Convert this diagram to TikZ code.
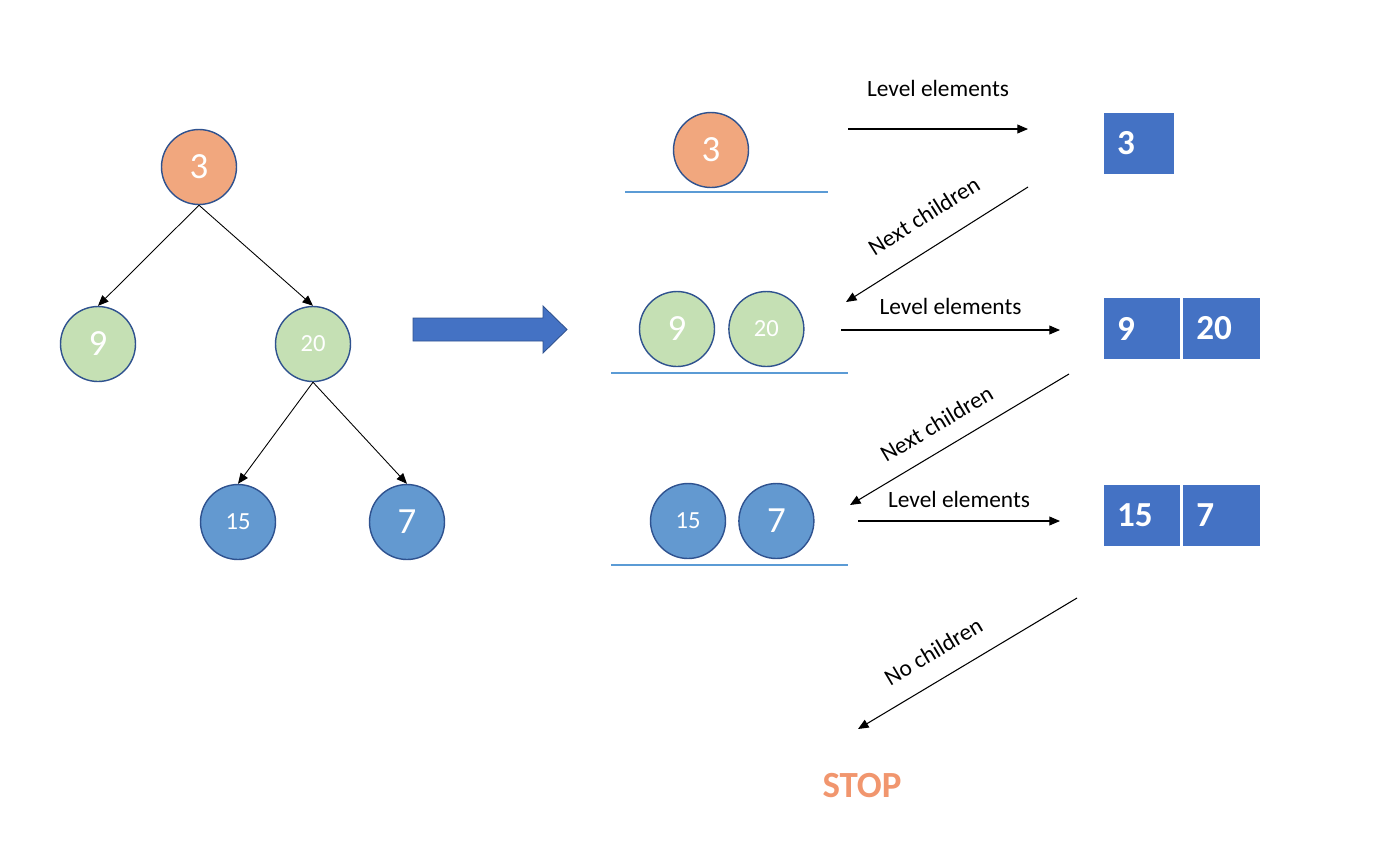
\documentclass[tikz,border=0pt]{standalone}
\usepackage{fontspec}
\setmainfont{Carlito}
\usepackage{tikz}
\usetikzlibrary{arrows.meta,positioning}
\definecolor{nodeorange}{RGB}{241,167,126}
\definecolor{nodegreen}{RGB}{197,224,180}
\definecolor{nodeblue}{RGB}{99,153,208}
\definecolor{cellblue}{RGB}{68,114,196}
\definecolor{rimblue}{RGB}{47,82,143}
\definecolor{baseblue}{RGB}{91,155,213}
\definecolor{stoporange}{RGB}{241,150,110}

\begin{document}
\begin{tikzpicture}[
    x=0.02cm,y=-0.02cm,
    treenode/.style={circle,draw=rimblue,line width=0.8pt,minimum size=1.5cm,inner sep=0pt,text=white,font=\fontsize{21}{21}\selectfont},
    smallnum/.style={font=\fontsize{14}{14}\selectfont},
    orangenode/.style={treenode,fill=nodeorange},
    greennode/.style={treenode,fill=nodegreen},
    bluenode/.style={treenode,fill=nodeblue},
    cell/.style={rectangle,draw=white,line width=0.8pt,fill=cellblue,minimum height=1.26cm,minimum width=1.56cm,text width=1.0cm,inner xsep=0.28cm,align=left,text=white,font=\fontsize{20}{20}\selectfont\bfseries},
    link/.style={-{Triangle[length=6pt,width=5pt]},line width=0.5pt},
    flow/.style={-{Triangle[length=6pt,width=5pt]},line width=0.6pt},
    note/.style={font=\fontsize{13.3}{14}\selectfont},
    base/.style={baseblue,line width=0.8pt}
]
\useasboundingbox (0,0) rectangle (1400,867);

% Tree
\node[orangenode] (t3) at (199,167) {3};
\node[greennode] (t9) at (98,344) {9};
\node[greennode,smallnum] (t20) at (313,344) {20};
\node[bluenode,smallnum] (t15) at (238,522) {15};
\node[bluenode] (t7) at (407,522) {7};

\draw[link] (t3.south) -- (t9.north);
\draw[link] (t3.south) -- (t20.north);
\draw[link] (t20.south) -- (t15.north);
\draw[link] (t20.south) -- (t7.north);

% Block arrow
\draw[fill=cellblue,draw=rimblue,line width=0.5pt] (413,318) -- (543,318) -- (543,306) -- (567,329.5) -- (543,353) -- (543,341) -- (413,341) -- cycle;

% Levels
\node[orangenode] (r3) at (711,150) {3};
\node[greennode] (r9) at (677,329) {9};
\node[greennode,smallnum,right=0.26cm of r9] (r20) {20};
\node[bluenode,smallnum] (r15) at (688,521) {15};
\node[bluenode,right=0.24cm of r15] (r7) {7};

\draw[base] (625,192) -- (828,192);
\draw[base] (611,373) -- (848,373);
\draw[base] (611,565) -- (848,565);

% Level arrays
\node[cell,minimum width=1.44cm,text width=0.88cm] (b3) at (1139,143.5) {3};
\node[cell] (b9) at (1142,328.5) {9};
\node[cell,right=0pt of b9] (b20) {20};
\node[cell] (b15) at (1142,515.5) {15};
\node[cell,right=0pt of b15] (b7) {7};

% Arrow ends
\coordinate (le1s) at (848,129);
\coordinate (le1e) at (1028,129);
\coordinate (nc1s) at (1028,187);
\coordinate (nc1e) at (846,302);
\coordinate (le2s) at (841,330);
\coordinate (le2e) at (1060,330);
\coordinate (nc2s) at (1069,374);
\coordinate (nc2e) at (850,505);
\coordinate (le3s) at (858,521);
\coordinate (le3e) at (1060,521);
\coordinate (nocs) at (1077,598);
\coordinate (noce) at (858,729);

\draw[flow] (le1s) -- node[note,above=14.7pt] (n1) {Level elements} (le1e);
\draw[flow] (nc1s) -- node[note,sloped,above=9.6pt,pos=0.48] (n2) {Next children} (nc1e);
\draw[flow] (le2s) -- node[note,above=5pt] (n3) {Level elements} (le2e);
\draw[flow] (nc2s) -- node[note,sloped,above=6.2pt,pos=0.545] (n4) {Next children} (nc2e);
\draw[flow] (le3s) -- node[note,above=4pt] (n5) {Level elements} (le3e);
\draw[flow] (nocs) -- node[note,sloped,above=7.7pt,pos=0.59] (n6) {No children} (noce);

\node[font=\fontsize{21}{21}\selectfont\bfseries,text=stoporange] (stop) at (862,786) {STOP};

\end{tikzpicture}
\end{document}
